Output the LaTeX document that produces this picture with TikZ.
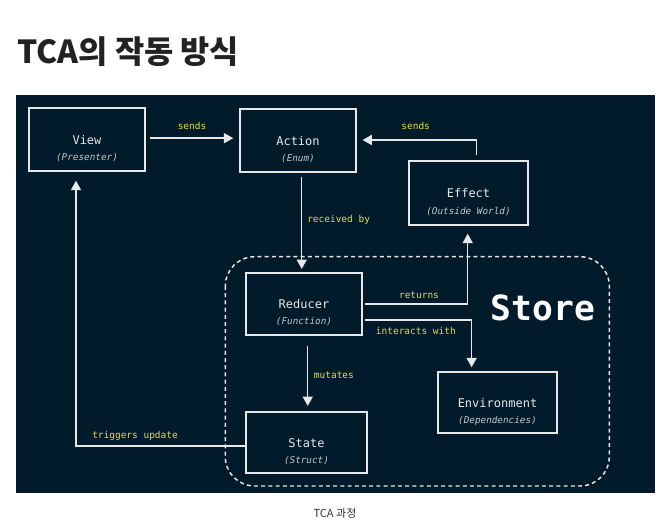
\documentclass[tikz,border=0pt]{standalone}
\usepackage{fontspec}
\setmonofont{DejaVu Sans Mono}
\newfontfamily\krfont{Noto Sans CJK KR}
\usetikzlibrary{arrows.meta}
\definecolor{panel}{HTML}{021B2A}
\definecolor{chalk}{HTML}{E6E8EA}
\definecolor{subgray}{HTML}{C4C9CE}
\definecolor{labyel}{HTML}{E2DD52}
\definecolor{titlegray}{HTML}{222222}
\definecolor{capgray}{HTML}{333333}
\begin{document}
\begin{tikzpicture}[x=0.75pt,y=-0.75pt,
  box/.style={draw=chalk, line width=1.1pt, fill=panel, inner sep=0pt},
  ttl/.style={text=chalk, font=\ttfamily\fontsize{9}{11}\selectfont, inner sep=0pt, anchor=base},
  sub/.style={text=subgray, font=\ttfamily\itshape\fontsize{7}{9}\selectfont, inner sep=0pt, anchor=base},
  lab/.style={text=labyel, font=\ttfamily\fontsize{7.1}{9}\selectfont, inner sep=0pt},
  arr/.style={draw=chalk, line width=1.1pt, -{Triangle[length=7pt,width=7.5pt]}},
  storeline/.style={draw=chalk, line width=1.1pt, dash pattern=on 3pt off 2.4pt, rounded corners=22pt}]
\useasboundingbox[fill=white] (0,0) rectangle (658,529);
% title
\node[anchor=base west, inner sep=0pt, text=titlegray, font=\krfont\bfseries\fontsize{23.8}{28}\selectfont] (title) at (17,63.3) {TCA의 작동 방식};
% panel
\fill[panel] (16,95) rectangle (655,493);
% store
\draw[storeline] (225.3,256.7) rectangle (609.3,486);
\node[anchor=base, inner sep=0pt, text=white, font=\ttfamily\bfseries\fontsize{26}{30}\selectfont] (store) at (543,320) {Store};
% boxes
\node[box, minimum width=87pt, minimum height=47.25pt] (view) at (87,139.5) {};
\node[box, minimum width=87pt, minimum height=47.25pt] (action) at (298,140.5) {};
\node[box, minimum width=89.25pt, minimum height=48pt] (effect) at (468.5,193) {};
\node[box, minimum width=87pt, minimum height=46.5pt] (reducer) at (304,304) {};
\node[box, minimum width=90.75pt, minimum height=45.75pt] (state) at (306.5,442.5) {};
\node[box, minimum width=89.25pt, minimum height=45.75pt] (environment) at (497.5,402.5) {};
% box texts
\node[ttl] (viewT) at ([yshift=-3.4pt]view.center) {View};
\node[sub] (viewS) at ([yshift=-15.8pt]view.center) {(Presenter)};
\node[ttl] (actionT) at ([yshift=-3.4pt]action.center) {Action};
\node[sub] (actionS) at ([yshift=-15.8pt]action.center) {(Enum)};
\node[ttl] (effectT) at ([yshift=-3.4pt]effect.center) {Effect};
\node[sub] (effectS) at ([yshift=-15.8pt]effect.center) {(Outside World)};
\node[ttl] (reducerT) at ([yshift=-3.4pt]reducer.center) {Reducer};
\node[sub] (reducerS) at ([yshift=-15.2pt]reducer.center) {(Function)};
\node[ttl] (stateT) at ([yshift=-3.4pt]state.center) {State};
\node[sub] (stateS) at ([yshift=-15.5pt]state.center) {(Struct)};
\node[ttl] (environmentT) at ([yshift=-3.4pt]environment.center) {Environment};
\node[sub] (environmentS) at ([yshift=-15.8pt]environment.center) {(Dependencies)};
% connectors
\draw[arr] ([xshift=3pt,yshift=1pt]view.east) -- ([xshift=-4.5pt,yshift=1pt]view.east -| action.west);
\draw[arr] ([xshift=6pt,yshift=4pt]effect.north) |- ([xshift=4.3pt,yshift=0.4pt]action.east);
\draw[arr] ([xshift=2.8pt,yshift=-3pt]action.south) -- ([xshift=2.8pt,yshift=2.5pt]action.south |- reducer.north);
\draw[arr] ([xshift=2pt]reducer.east) -| ([xshift=-0.6pt,yshift=-6pt]effect.south);
\draw[arr] ([xshift=2pt,yshift=-12pt]reducer.east) -| ([xshift=-19.4pt,yshift=3pt]environment.north);
\draw[arr] ([xshift=2.8pt,yshift=-7.5pt]reducer.south) -- ([xshift=2.8pt,yshift=4pt]reducer.south |- state.north);
\draw[arr] ([yshift=-2.6pt]state.west) -| ([xshift=-8.25pt,yshift=-6.75pt]view.south);
% labels
\node[lab, anchor=base] (l1) at (192,129.5) {sends};
\node[lab, anchor=base] (l2) at (415.7,129.5) {sends};
\node[lab, anchor=base west] (l3) at (307,222.5) {received by};
\node[lab, anchor=base] (l4) at (419,298.5) {returns};
\node[lab, anchor=base west] (l5) at (375.7,334.5) {interacts with};
\node[lab, anchor=base west] (l6) at (313.7,378.5) {mutates};
\node[lab, anchor=base west] (l7) at (92,438.5) {triggers update};
% caption
\node[anchor=base, inner sep=0pt, text=capgray, font=\krfont\fontsize{8.3}{10}\selectfont] (caption) at (335,517) {TCA 과정};
\end{tikzpicture}
\end{document}
